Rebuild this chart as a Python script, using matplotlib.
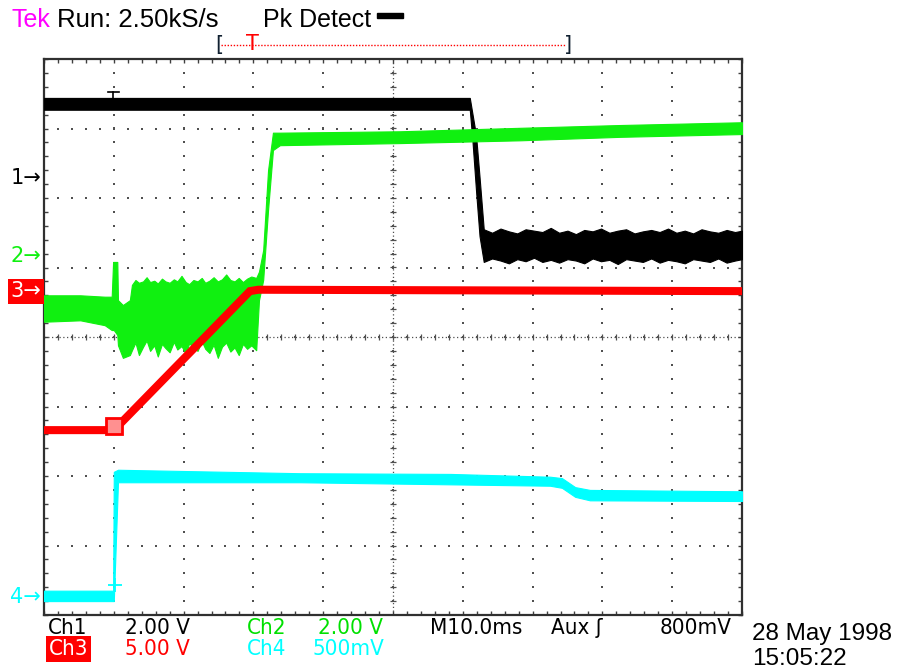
import matplotlib.pyplot as plt
import numpy as np
from matplotlib.lines import Line2D
from matplotlib.patches import Rectangle

W, H = 898, 670

# trace envelopes in screen divisions (x 0..10, y 0..8 from the bottom)
ch1_x = [0.00, 6.10, 6.14, 6.19, 6.24,
         6.30, 6.42, 6.54, 6.66, 6.78, 6.90, 7.02, 7.14, 7.26, 7.38, 7.50,
         7.62, 7.74, 7.86, 7.98, 8.10, 8.22, 8.34, 8.46, 8.58, 8.70, 8.82,
         8.94, 9.06, 9.18, 9.30, 9.42, 9.54, 9.66, 9.78, 9.90, 10.0]
ch1_hi = [7.44, 7.44, 7.20, 6.90, 6.30,
          5.55, 5.50, 5.56, 5.52, 5.49, 5.55, 5.53, 5.51, 5.57, 5.50, 5.53,
          5.48, 5.54, 5.52, 5.56, 5.50, 5.53, 5.55, 5.49, 5.52, 5.54, 5.51,
          5.56, 5.50, 5.53, 5.49, 5.55, 5.52, 5.50, 5.54, 5.51, 5.53]
ch1_lo = [7.27, 7.27, 6.80, 6.10, 5.45,
          5.08, 5.13, 5.10, 5.06, 5.12, 5.09, 5.14, 5.08, 5.11, 5.07, 5.12,
          5.10, 5.06, 5.13, 5.09, 5.11, 5.05, 5.12, 5.10, 5.08, 5.13, 5.07,
          5.11, 5.09, 5.06, 5.12, 5.10, 5.08, 5.13, 5.07, 5.10, 5.12]

ch2_x = [0.00, 0.52, 0.87, 0.97, 0.99, 1.00, 1.05, 1.06, 1.13, 1.23,
         1.26, 1.31, 1.36, 1.42, 1.47, 1.52, 1.58, 1.63, 1.69, 1.74, 1.80,
         1.86, 1.91, 1.97, 2.03, 2.08, 2.14, 2.20, 2.26, 2.31, 2.37, 2.43,
         2.49, 2.55, 2.61, 2.67, 2.73, 2.79, 2.85, 2.91, 2.97, 3.04,
         3.08, 3.14, 3.21, 3.28, 3.38, 5.10, 6.82, 8.25, 10.0]
ch2_hi = [4.60, 4.60, 4.58, 4.58, 5.08, 5.08, 5.08, 4.53, 4.46, 4.53,
          4.75, 4.82, 4.78, 4.80, 4.86, 4.79, 4.81, 4.77, 4.84, 4.80, 4.78,
          4.83, 4.80, 4.88, 4.79, 4.76, 4.82, 4.80, 4.85, 4.78, 4.81, 4.86,
          4.80, 4.83, 4.90, 4.82, 4.80, 4.85, 4.79, 4.84, 4.87, 4.85,
          4.94, 5.25, 6.40, 6.94, 6.94, 6.96, 7.01, 7.05, 7.09]
ch2_lo = [4.22, 4.24, 4.17, 4.10, 4.10, 4.10, 4.03, 3.88, 3.70, 3.74,
          3.81, 3.92, 3.74, 3.86, 3.95, 3.80, 3.88, 3.72, 3.90, 3.84, 3.78,
          3.93, 3.82, 3.87, 3.76, 3.91, 3.85, 3.80, 3.94, 3.83, 3.77, 3.89,
          3.70, 3.86, 3.92, 3.79, 3.85, 3.74, 3.90, 3.83, 3.88, 3.81,
          4.53, 4.82, 5.83, 6.69, 6.76, 6.79, 6.83, 6.88, 6.92]

ch3_x = [0.00, 0.92, 0.97, 1.09, 2.95, 3.07, 10.0]
ch3_y = [2.66, 2.66, 2.69, 2.75, 4.66, 4.68, 4.66]

ch4_x = [0.00, 0.99, 1.00, 1.06, 3.67, 5.82, 7.25, 7.42, 7.61, 7.82, 10.0]
ch4_hi = [0.35, 0.35, 2.06, 2.09, 2.04, 2.03, 1.99, 1.97, 1.84, 1.80, 1.78]
ch4_lo = [0.20, 0.20, 0.20, 1.91, 1.91, 1.88, 1.86, 1.83, 1.70, 1.65, 1.64]

# ground reference markers, divisions
ref_levels = [6.29, 5.17, 4.66, 0.26]
ref_names = ['1', '2', '3', '4']

trig_x = 0.99
trig_level = 7.52

GREEN = '#10f010'
CYAN = '#00ffff'
RED = '#ff0000'
FONT = 'Liberation Sans'
COND = dict(family='DejaVu Sans', fontstretch='condensed')


def fx(px):
    return px / W


def fy(py):
    return 1 - py / H


fig = plt.figure(figsize=(W / 100, H / 100), dpi=100)
ax = fig.add_axes([fx(44), fy(615), 698 / W, 556 / H])
ax.set_xlim(0, 10)
ax.set_ylim(0, 8)

for s in ax.spines.values():
    s.set_linewidth(1.6)
    s.set_color('#303030')
ax.set_xticks(np.arange(0, 10.01, 0.2))
ax.set_yticks(np.arange(0, 8.01, 0.2))
ax.tick_params(direction='in', length=3, width=1, color='#404040',
               top=True, right=True, labelbottom=False, labelleft=False)

# dotted graticule
steps_y = np.arange(0.2, 8, 0.2)
steps_x = np.arange(0.2, 10, 0.2)
for i in range(1, 10):
    ax.scatter(np.full_like(steps_y, i), steps_y, s=1.5, marker='s',
               color='#505050', linewidths=0, zorder=1)
for j in range(1, 8):
    ax.scatter(steps_x, np.full_like(steps_x, j), s=1.5, marker='s',
               color='#505050', linewidths=0, zorder=1)

# centre cross with minor ticks
ax.axhline(4, color='#505050', lw=0.9, ls=(0, (1, 2)), zorder=1)
ax.axvline(5, color='#505050', lw=0.9, ls=(0, (1, 2)), zorder=1)
ax.plot(steps_x, np.full_like(steps_x, 4), ls='none', marker='|', ms=4,
        mew=0.9, color='#505050', zorder=1)
ax.plot(np.full_like(steps_y, 5), steps_y, ls='none', marker='_', ms=4,
        mew=0.9, color='#505050', zorder=1)

# traces
ax.fill_between(ch1_x, ch1_lo, ch1_hi, color='black', lw=0.8, zorder=3)
ax.fill_between(ch2_x, ch2_lo, ch2_hi, color=GREEN, lw=0.8, zorder=4)
ax.plot(ch3_x, ch3_y, color=RED, lw=5.8, solid_joinstyle='miter',
        solid_capstyle='butt', zorder=5)
ax.fill_between(ch4_x, ch4_lo, ch4_hi, color=CYAN, lw=0.8, zorder=4)

# trigger markers on traces
ax.plot([trig_x - 0.08, trig_x + 0.08], [trig_level, trig_level],
        color='black', lw=1.2, zorder=6)
ax.plot([trig_x, trig_x], [trig_level, ch1_hi[0]], color='black', lw=1.2,
        zorder=6)
ax.plot(ch3_x[2] + 0.03, ch3_y[3] - 0.03, marker='s', ms=12, mfc='#ff9090',
        mec=RED, mew=2, zorder=6)
ax.plot(trig_x + 0.03, ch4_hi[0] + 0.08, marker='+', ms=10, mew=1.3,
        color=CYAN, zorder=6)

# channel reference arrows
yt = ax.get_yaxis_transform()
ref_colors = ['black', GREEN, 'white', CYAN]
for name, lvl, c in zip(ref_names, ref_levels, ref_colors):
    kw = {}
    if name == '3':
        kw['bbox'] = dict(boxstyle='square,pad=0.12', fc=RED, ec='none')
    ax.text(-0.004, lvl, name + '\u2192', transform=yt, ha='right',
            va='center', fontsize=15, color=c, family='DejaVu Sans',
            clip_on=False, **kw)

# header
fig.text(fx(12), fy(27), 'Tek', color='#ff00ff', fontsize=18,
         family=FONT, va='baseline')
fig.text(fx(57), fy(27), 'Run: 2.50kS/s', color='black', fontsize=18.5,
         family=FONT, va='baseline')
fig.text(fx(263), fy(27), 'Pk Detect', color='black', fontsize=18,
         family=FONT, va='baseline')
fig.add_artist(Rectangle((fx(377), fy(18)), 26 / W, 5 / H, color='black',
                         transform=fig.transFigure))

# record position bracket
fig.add_artist(Line2D([fx(221), fx(566)], [fy(45), fy(45)], color=RED,
                      lw=1, ls=(0, (1, 1.2))))
fig.text(fx(215), fy(45), '[', fontsize=15, color='#102030', va='center',
         family='DejaVu Sans')
fig.text(fx(564), fy(45), ']', fontsize=15, color='#102030', va='center',
         family='DejaVu Sans')
fig.text(fx(252), fy(44), 'T', fontsize=15, color=RED, va='center',
         ha='center', family='DejaVu Sans')

# channel settings
row1, row2 = fy(634), fy(655)
fs = 16
fig.text(fx(48), row1, 'Ch1', fontsize=fs, va='baseline', **COND)
fig.text(fx(125), row1, '2.00 V', fontsize=fs, va='baseline', **COND)
fig.text(fx(247), row1, 'Ch2', fontsize=fs, va='baseline',
         color='#00e000', **COND)
fig.text(fx(318), row1, '2.00 V', fontsize=fs, va='baseline',
         color='#00e000', **COND)
fig.text(fx(430), row1, 'M10.0ms', fontsize=fs, va='baseline', **COND)
fig.text(fx(551), row1, 'Aux \u0283', fontsize=fs, va='baseline', **COND)
fig.text(fx(660), row1, '800mV', fontsize=fs, va='baseline', **COND)
fig.text(fx(49), row2, 'Ch3', fontsize=fs, va='baseline', color='white',
         bbox=dict(boxstyle='square,pad=0.12', fc=RED, ec='none'), **COND)
fig.text(fx(125), row2, '5.00 V', fontsize=fs, va='baseline', color=RED,
         **COND)
fig.text(fx(247), row2, 'Ch4', fontsize=fs, va='baseline', color=CYAN,
         **COND)
fig.text(fx(313), row2, '500mV', fontsize=fs, va='baseline', color=CYAN,
         **COND)
fig.text(fx(752), fy(640), '28 May 1998', fontsize=17.5, family=FONT,
         va='baseline')
fig.text(fx(752), fy(665), '15:05:22', fontsize=17.5, family=FONT,
         va='baseline')

fig.savefig('out.png', dpi=100)
